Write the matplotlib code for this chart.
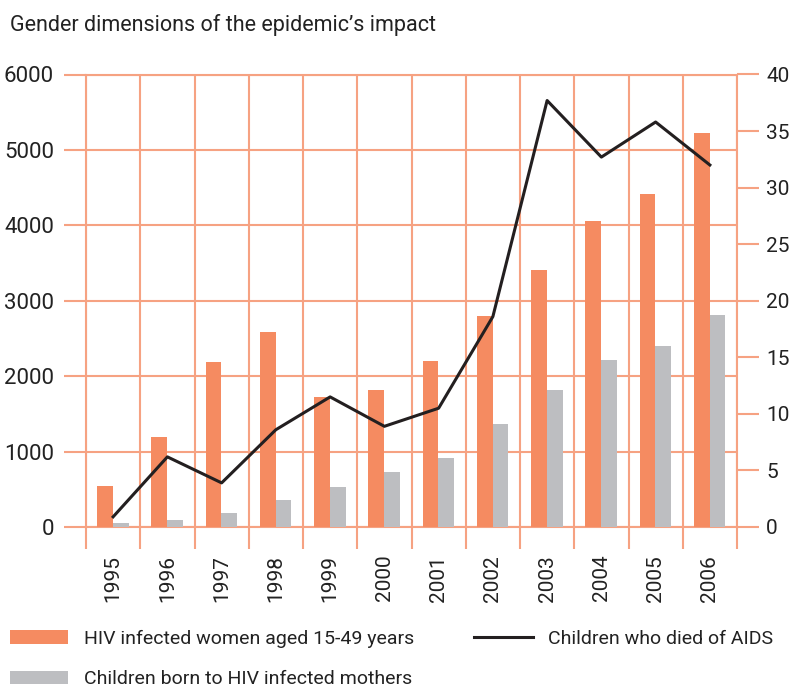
import matplotlib
matplotlib.use("Agg")
import matplotlib.pyplot as plt
from matplotlib.ticker import FixedLocator
import numpy as np

years = ["1995", "1996", "1997", "1998", "1999", "2000",
         "2001", "2002", "2003", "2004", "2005", "2006"]
women_hiv = [540, 1190, 2190, 2580, 1720, 1810, 2200, 2800, 3410, 4060, 4420, 5220]
children_born = [50, 90, 180, 360, 530, 735, 920, 1360, 1820, 2220, 2400, 2810]
children_died = [0.9, 6.2, 3.9, 8.6, 11.5, 8.9, 10.5, 18.6, 37.7, 32.7, 35.8, 32.0]

orange = "#F58B61"
gridc = "#F6A282"
grey = "#BDBEC1"
black = "#231F20"
textc = "#222222"

plt.rcParams["font.family"] = ["Roboto", "DejaVu Sans"]
plt.rcParams["text.color"] = textc

fig = plt.figure(figsize=(7.91, 6.87), dpi=100)
ax = fig.add_axes([86 / 791, 1 - 527 / 687, 651 / 791, 452.5 / 687])

x = np.arange(len(years))
b1 = ax.bar(x - 0.15, women_hiv, 0.29, color=orange, zorder=3)
b2 = ax.bar(x + 0.14, children_born, 0.29, color=grey, zorder=3)

ax.set_xlim(-0.5, len(years) - 0.5)
ax.set_ylim(0, 6000)
ax.set_yticks(range(0, 6001, 1000))
ax.set_xticks(x)
ax.set_xticklabels(years, rotation=90, fontsize=15, color=textc)
ax.xaxis.set_minor_locator(FixedLocator(np.arange(-0.5, len(years), 1.0)))
ax.tick_params(axis="x", which="major", length=0, pad=20)
ax.tick_params(axis="x", which="minor", length=16, width=1.5, color=gridc)
ax.tick_params(axis="y", length=16, width=1.5, color=gridc, pad=7,
               labelsize=16, labelcolor=textc)
ax.grid(axis="y", color=gridc, lw=1.5, zorder=0)
ax.grid(axis="x", which="minor", color=gridc, lw=1.5, zorder=0)
for s in ax.spines.values():
    s.set_color(gridc)
    s.set_linewidth(1.5)

ax2 = ax.twinx()
ln, = ax2.plot(x, children_died, color=black, lw=2.2)
ax2.set_ylim(0, 40)
ax2.set_yticks(range(0, 41, 5))
ax2.tick_params(axis="y", length=16, width=1.5, color=gridc, pad=5,
                labelsize=15, labelcolor=textc)
for s in ax2.spines.values():
    s.set_visible(False)

fig.text(10 / 791, 1 - 25 / 687, "Gender dimensions of the epidemic\u2019s impact",
         fontsize=15.5, va="center", ha="left")

fig.legend([b1, b2, ln],
           ["HIV infected women aged 15-49 years",
            "Children born to HIV infected mothers",
            "Children who died of AIDS"],
           ncol=2, loc="upper left", bbox_to_anchor=(10 / 791, 1 - 630 / 687),
           frameon=False, fontsize=14, borderpad=0, borderaxespad=0,
           handlelength=3.0, handleheight=0.7, handletextpad=0.8,
           columnspacing=3.1, labelspacing=1.15)

fig.savefig("out.png", dpi=100)
